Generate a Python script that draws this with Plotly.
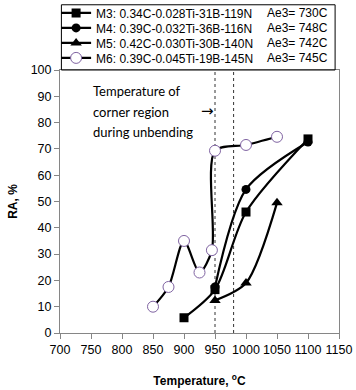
import plotly.graph_objects as go

m3_t = [900, 950, 1000, 1100]
m3_ra = [5.8, 16.5, 46, 73.8]
m4_t = [950, 1000, 1100]
m4_ra = [17.5, 54.6, 72.6]
m5_t = [950, 1000, 1050]
m5_ra = [12.4, 19, 49.5]
m6_t = [850, 875, 900, 925, 945, 950, 1000, 1050]
m6_ra = [10, 17.5, 35, 23, 31.5, 69.3, 71.5, 74.6]

names = ["M3: 0.34C-0.028Ti-31B-119N", "M4: 0.39C-0.032Ti-36B-116N",
         "M5: 0.42C-0.030Ti-30B-140N", "M6: 0.39C-0.045Ti-19B-145N"]
ae3 = ["Ae3= 730C", "Ae3= 748C", "Ae3= 742C", "Ae3= 745C"]
vlines = [950, 980]
note_lines = ["Temperature of", "corner region", "during unbending"]

FONT = "Arial, Liberation Sans, sans-serif"

fig = go.Figure()
line = dict(color="black", width=2.2, shape="spline", smoothing=0.8)
legends = ["legend", "legend2", "legend3", "legend4"]
fig.add_trace(go.Scatter(x=m3_t, y=m3_ra, name=names[0], mode="lines+markers", line=line,
                         legend=legends[0],
                         marker=dict(symbol="square", size=9, color="black")))
fig.add_trace(go.Scatter(x=m4_t, y=m4_ra, name=names[1], mode="lines+markers", line=line,
                         legend=legends[1],
                         marker=dict(symbol="circle", size=9, color="black")))
fig.add_trace(go.Scatter(x=m5_t, y=m5_ra, name=names[2], mode="lines+markers", line=line,
                         legend=legends[2],
                         marker=dict(symbol="triangle-up", size=10, color="black")))
fig.add_trace(go.Scatter(x=m6_t, y=m6_ra, name=names[3], mode="lines+markers", line=line,
                         legend=legends[3],
                         marker=dict(symbol="circle", size=11, color="white",
                                     line=dict(color="#8064A2", width=1))))

for v in vlines:
    fig.add_shape(type="line", x0=v, x1=v, y0=0, y1=100, xref="x", yref="y",
                  line=dict(color="#333333", width=1, dash="dot"), layer="below")

# legend box
fig.add_shape(type="rect", xref="paper", yref="paper", x0=0.005, x1=0.986, y0=1.0, y1=1.248,
              line=dict(color="black", width=1), fillcolor="rgba(0,0,0,0)")

note_y = [0.920, 0.841, 0.764]
for t, yy in zip(note_lines, note_y):
    fig.add_annotation(x=0.112, y=yy, xref="paper", yref="paper", xanchor="left",
                       yanchor="middle", showarrow=False, text=t,
                       font=dict(family="Lato", size=13, color="black"))
fig.add_annotation(x=0.53, y=0.843, xref="paper", yref="paper", xanchor="center",
                   yanchor="middle", showarrow=False, text="→",
                   font=dict(family="DejaVu Sans", size=15, color="black"))

leg_y = [1.217, 1.160, 1.103, 1.046]
for i, a in enumerate(ae3):
    fig.add_annotation(x=0.968, y=leg_y[i], xref="paper", yref="paper", showarrow=False,
                       text=a, xanchor="right", yanchor="middle",
                       font=dict(family=FONT, size=12, color="black"))

layout_legends = {}
for i, lg in enumerate(legends):
    layout_legends[lg] = dict(x=-0.014, y=leg_y[i], xanchor="left", yanchor="middle",
                              borderwidth=0, bgcolor="rgba(0,0,0,0)",
                              font=dict(family=FONT, size=12, color="black"),
                              itemwidth=30)

fig.update_layout(
    width=356, height=390,
    margin=dict(l=60, r=17, t=70, b=57, autoexpand=False),
    paper_bgcolor="white", plot_bgcolor="white",
    font=dict(family=FONT, size=12, color="black"),
    showlegend=True,
    **layout_legends,
    xaxis=dict(range=[700, 1150], dtick=50, tick0=700, showgrid=False, zeroline=False,
               showline=True, linecolor="#868686", linewidth=1, mirror=True,
               ticks="outside", ticklen=5, tickcolor="#868686",
               tickfont=dict(size=12.5),
               title=dict(text="<b>Temperature, <sup>o</sup>C</b>", standoff=20,
                          font=dict(size=12))),
    yaxis=dict(range=[0, 100], dtick=10, showgrid=False, zeroline=False,
               showline=True, linecolor="#868686", linewidth=1, mirror=True,
               ticks="outside", ticklen=5, tickcolor="#868686",
               tickfont=dict(size=12.5),
               title=dict(text="<b>RA, %</b>", standoff=10, font=dict(size=12))),
)
fig.write_html("out.html", config={"displayModeBar": False},
               post_script="document.body.style.margin='0';document.body.style.padding='0';")
